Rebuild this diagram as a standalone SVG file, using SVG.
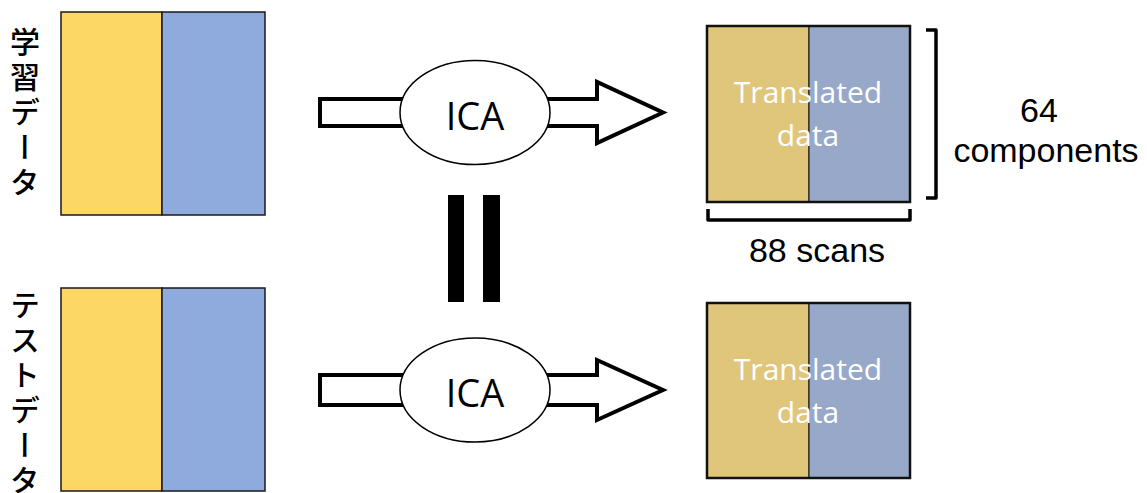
<svg xmlns="http://www.w3.org/2000/svg" width="1147" height="493" viewBox="0 0 1147 493">
<style>
.y{fill:#FCD766;stroke:#1a1a1a;stroke-width:1.5}
.b{fill:#8FAADC;stroke:#1a1a1a;stroke-width:1.5}
.ty{fill:#E0C67B;stroke:#222;stroke-width:1.2}
.tb{fill:#97A8C8;stroke:#222;stroke-width:1.2}
.frame{fill:none;stroke:#111;stroke-width:2.5}
.jp{font-family:"Noto Sans CJK JP",sans-serif;font-size:30px;font-weight:500;fill:#000;writing-mode:vertical-rl;letter-spacing:5px}
.arr{fill:#fff;stroke:#000;stroke-width:4;stroke-linejoin:miter}
.ell{fill:#fff;stroke:#000;stroke-width:1.5}
.ica{font-family:"Open Sans",sans-serif;font-size:38px;fill:#000;text-anchor:middle}
.tr{font-family:"Open Sans",sans-serif;font-size:30px;fill:#fff;text-anchor:middle}
.lbl{font-family:"Liberation Sans",Arial,sans-serif;font-size:34px;fill:#000;text-anchor:middle}
.br{fill:none;stroke:#000;stroke-width:3.5;stroke-linejoin:round}
</style>
<rect width="1147" height="493" fill="#fff"/>
<g id="connectors">
<path class="arr" d="M320,99 H597 V82 L663,112.5 L597,143 V126 H320 Z"/>
<path class="arr" d="M320,375 H597 V360 L663,390 L597,420 V405 H320 Z"/>
</g>
<g id="train-data">
<rect class="y" x="61" y="12" width="101" height="203"/>
<rect class="b" x="162" y="12" width="103" height="203"/>
<text class="jp" x="25" y="27">学習データ</text>
</g>
<g id="test-data">
<rect class="y" x="61" y="288" width="101" height="203"/>
<rect class="b" x="162" y="288" width="103" height="203"/>
<text class="jp" x="25" y="290">テストデータ</text>
</g>
<g id="ica-top">
<ellipse class="ell" cx="475" cy="112.5" rx="75" ry="52"/>
<text class="ica" x="475" y="130">ICA</text>
</g>
<g id="ica-bottom">
<ellipse class="ell" cx="475" cy="390" rx="75" ry="52"/>
<text class="ica" x="475" y="407">ICA</text>
</g>
<g id="equals">
<rect x="448" y="195" width="16" height="107" fill="#000"/>
<rect x="483" y="195" width="17" height="107" fill="#000"/>
</g>
<g id="translated-top">
<rect class="ty" x="707" y="26" width="102" height="176"/>
<rect class="tb" x="809" y="26" width="101" height="176"/>
<rect class="frame" x="707" y="26" width="203" height="176"/>
<text class="tr" x="808" y="103">Translated</text>
<text class="tr" x="808" y="146">data</text>
</g>
<g id="translated-bottom">
<rect class="ty" x="707" y="303" width="102" height="175"/>
<rect class="tb" x="809" y="303" width="101" height="175"/>
<rect class="frame" x="707" y="303" width="203" height="175"/>
<text class="tr" x="808" y="380">Translated</text>
<text class="tr" x="808" y="423">data</text>
</g>
<g id="dims">
<path class="br" d="M926,30 H936 V198 H926"/>
<path class="br" d="M708,209 V220 H910 V209"/>
<text class="lbl" x="1039" y="122">64</text>
<text class="lbl" x="1046" y="162">components</text>
<text class="lbl" x="817" y="262">88 scans</text>
</g>
</svg>
